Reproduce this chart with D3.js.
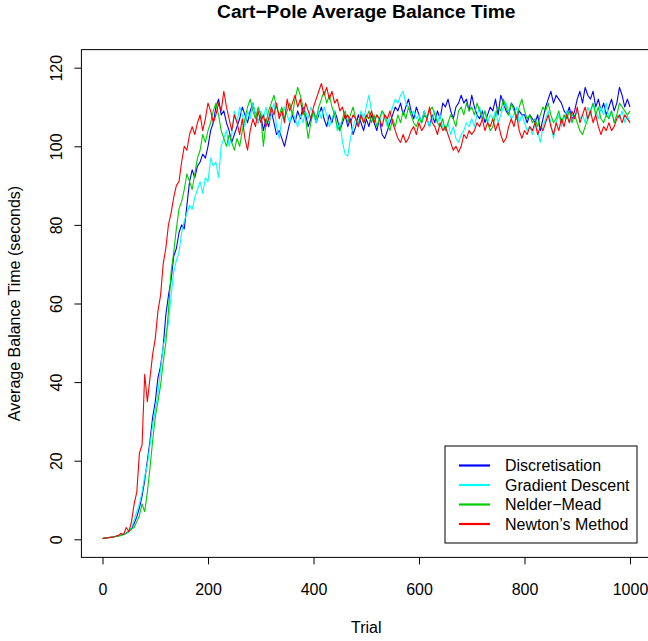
<!DOCTYPE html>
<html>
<head>
<meta charset="utf-8">
<script src="https://cdn.jsdelivr.net/npm/d3@7"></script>
<style>
  body { margin: 0; background: #fff; }
  text { font-family: "Liberation Sans", Arial, Helvetica, sans-serif; fill: #000; }
</style>
</head>
<body>
<svg id="chart" width="648" height="641"></svg>
<script>
// one reading every 5 trials, 0..1000
var trialStep = 5;
var xTicks = [0, 200, 400, 600, 800, 1000];
var yTicks = [0, 20, 40, 60, 80, 100, 120];
var seriesNames = ["Discretisation", "Gradient Descent", "Nelder\u2212Mead", "Newton\u2019s Method"];
var seriesColors = ["#0000ff", "#00ffff", "#00cd00", "#ff0000"];

var discretisation = [
	0.2, 0.3, 0.4, 0.5, 0.6, 0.7, 0.9, 1.1, 1.3, 1.6, 2.0, 2.6, 4.0, 5.7, 8, 11, 15, 20, 25, 31,
	35, 41, 44, 49, 57, 62, 66, 72, 74, 78, 80, 79, 85, 91, 94, 92, 95, 96, 98, 97,
	100, 104, 106, 110, 112, 108, 109, 106, 104, 101, 103, 105, 107, 110, 108, 106, 109, 111, 108, 106,
	108, 104, 107, 105, 109, 106, 103, 104, 102, 100, 103, 106, 108, 106, 109, 107, 110, 108, 105, 107,
	109, 106, 108, 110, 107, 105, 108, 106, 109, 107, 104, 106, 108, 105, 107, 103, 105, 108, 106, 104,
	107, 105, 108, 106, 104, 107, 103, 102, 104, 106, 108, 110, 109, 111, 108, 110, 112, 109, 107, 110,
	108, 106, 109, 107, 105, 108, 106, 109, 107, 111, 110, 112, 109, 107, 110, 111, 113, 111, 112, 109,
	113, 110, 108, 107, 109, 106, 108, 110, 109, 112, 108, 113, 111, 109, 108, 111, 110, 107, 109, 108,
	108, 106, 108, 107, 106, 108, 104, 107, 110, 112, 114, 111, 113, 112, 111, 109, 108, 110, 107, 109,
	112, 114, 111, 115, 113, 112, 114, 110, 112, 109, 111, 108, 110, 112, 109, 111, 115, 113, 110, 112,
	110
];
var gradientDescent = [
	0.2, 0.3, 0.4, 0.5, 0.6, 0.7, 0.8, 1.0, 1.2, 1.5, 2.0, 3.0, 5, 7, 9, 12, 16, 19, 24, 29,
	33, 37, 43, 49, 52, 55, 62, 68, 71, 73, 78, 81, 83, 85, 84, 87, 89, 91, 88, 92,
	91, 97, 95, 96, 92, 100, 102, 104, 100, 103, 109, 106, 110, 108, 105, 109, 107, 111, 108, 106,
	109, 107, 110, 106, 108, 111, 105, 102, 107, 110, 108, 106, 109, 107, 105, 108, 106, 109, 107, 110,
	108, 106, 109, 107, 110, 108, 105, 107, 109, 104, 106, 101, 98, 97.5, 102, 105, 107, 106, 109, 107,
	110, 113, 109, 107, 108, 106, 109, 107, 105, 108, 110, 112, 111, 113, 114, 111, 110, 108, 109, 107,
	108, 106, 109, 107, 105, 107, 109, 106, 108, 105, 104, 106, 103, 105, 102, 101, 103, 104, 106, 105,
	107, 105, 108, 110, 107, 109, 106, 108, 107, 109, 106, 108, 110, 111, 109, 107, 108, 110, 106, 108,
	106, 104, 105, 103, 106, 104, 101, 105, 107, 109, 106, 102, 106, 108, 105, 107, 109, 106, 108, 107,
	109, 107, 108, 106, 110, 108, 111, 109, 107, 110, 108, 111, 107, 109, 106, 108, 107, 109, 106, 108,
	106
];
var nelderMead = [
	0.2, 0.3, 0.4, 0.5, 0.6, 0.7, 0.8, 1.0, 1.2, 1.5, 2.0, 2.6, 3.0, 4.5, 6, 9, 7, 12, 18, 25,
	31, 35, 39, 45, 50, 58, 68, 73, 79, 84, 86, 89, 93, 91, 89, 93, 97, 99, 103, 101,
	104, 106, 109, 111, 108, 104, 102, 100, 103, 101, 99, 102, 100, 104, 107, 110, 112, 109, 107, 110,
	108, 100, 106, 109, 111, 113, 110, 108, 110, 107, 109, 111, 108, 112, 115, 113, 110, 107, 102, 106,
	109, 107, 110, 112, 114, 111, 113, 110, 108, 105, 104, 107, 109, 106, 108, 110, 107, 105, 108, 106,
	107, 109, 106, 108, 105, 107, 109, 108, 106, 104, 107, 105, 108, 106, 109, 107, 110, 108, 106, 105,
	107, 106, 108, 107, 109, 110, 108, 106, 105, 107, 104, 106, 108, 107, 105, 109, 110, 108, 111, 109,
	110, 108, 111, 109, 107, 109, 106, 104, 105, 108, 110, 109, 112, 110, 108, 111, 109, 107, 110, 112,
	109, 107, 108, 106, 107, 105, 108, 110, 109, 111, 108, 106, 107, 109, 106, 108, 107, 109, 106, 108,
	106, 104, 103, 105, 107, 109, 111, 108, 110, 107, 106, 108, 107, 109, 106, 108, 111, 110, 109, 108,
	109
];
var newtonsMethod = [
	0.2, 0.3, 0.4, 0.5, 0.6, 0.8, 1.0, 1.5, 1.2, 3.0, 2.0, 4.5, 9, 12, 22, 24, 42, 35, 41, 47,
	51, 58, 62, 70, 74, 80, 83, 87, 90, 91, 96, 100, 99, 103, 105, 103, 106, 108, 104, 107,
	111, 109, 106, 108, 111, 109, 114, 110, 107, 104, 108, 106, 103, 107, 102, 99, 104, 107, 105, 109,
	106, 108, 105, 107, 110, 108, 111, 107, 109, 106, 112, 109, 111, 113, 110, 112, 108, 111, 109, 107,
	110, 112, 114, 116, 113, 115, 112, 114, 111, 112, 109, 110, 107, 108, 106, 108, 107, 105, 108, 106,
	108, 107, 109, 106, 108, 107, 105, 108, 107, 109, 106, 104, 102, 101, 103, 101, 102, 104, 105, 103,
	106, 104, 105, 107, 110, 106, 105, 103, 106, 104, 105, 103, 101, 99, 100, 98.5, 100, 103, 102, 104,
	103, 104, 106, 105, 107, 104, 106, 105, 107, 104, 106, 103, 101, 102, 105, 107, 105, 108, 104, 102,
	104, 103, 105, 104, 106, 103, 105, 104, 106, 108, 105, 103, 106, 104, 107, 105, 108, 106, 109, 107,
	110, 106, 108, 110, 107, 109, 106, 108, 105, 103, 105, 104, 106, 104, 105, 107, 108, 106, 108, 107,
	106
];
var allSeries = [discretisation, gradientDescent, nelderMead, newtonsMethod];

var svg = d3.select("#chart");
var x = d3.scaleLinear().domain([0, 1000]).range([102.5, 630]);
var y = d3.scaleLinear().domain([0, 120]).range([539.3, 67.7]);
var boxL = x(-39.96), boxR = x(1039.96), boxT = y(124.6), boxB = y(-4.6);
var fontSize = "16px";

// series
var line = d3.line()
	.x(function(d, i) { return x(i * trialStep); })
	.y(function(d) { return y(d); });
allSeries.forEach(function(s, k) {
	svg.append("path")
		.attr("d", line(s))
		.attr("fill", "none")
		.attr("stroke", seriesColors[k])
		.attr("stroke-width", 1.1)
		.attr("stroke-linejoin", "round");
});

// plot box
svg.append("rect")
	.attr("x", boxL).attr("y", boxT)
	.attr("width", boxR - boxL).attr("height", boxB - boxT)
	.attr("fill", "none").attr("stroke", "#000").attr("stroke-width", 1);

// axes, R style: ticks outside the box
var xAxis = d3.axisBottom(x).tickValues(xTicks).tickSize(7).tickPadding(19).tickFormat(d3.format("d"));
var gx = svg.append("g").attr("transform", "translate(0," + boxB + ")").call(xAxis);
gx.select(".domain").remove();
gx.selectAll("text").style("font-size", fontSize).attr("font-family", null);
gx.selectAll("line").attr("stroke", "#000");

var yAxis = d3.axisLeft(y).tickValues(yTicks).tickSize(7).tickFormat(d3.format("d"));
var gy = svg.append("g").attr("transform", "translate(" + boxL + ",0)").call(yAxis);
gy.select(".domain").remove();
gy.selectAll("line").attr("stroke", "#000");
gy.selectAll("text")
	.style("font-size", fontSize).attr("font-family", null)
	.attr("x", null).attr("dy", null)
	.attr("text-anchor", "middle")
	.attr("transform", "translate(-19,0) rotate(-90)");

// titles
var midX = (boxL + boxR) / 2;
svg.append("text").attr("x", midX).attr("y", 18)
	.attr("text-anchor", "middle").style("font-size", "19.2px").style("font-weight", "bold")
	.text("Cart\u2212Pole Average Balance Time");
svg.append("text").attr("x", midX).attr("y", 633)
	.attr("text-anchor", "middle").style("font-size", fontSize)
	.text("Trial");
svg.append("text")
	.attr("transform", "translate(20," + ((boxT + boxB) / 2) + ") rotate(-90)")
	.attr("text-anchor", "middle").style("font-size", fontSize)
	.text("Average Balance Time (seconds)");

// legend
var leg = svg.append("g");
leg.append("rect").attr("x", 445).attr("y", 446).attr("width", 192).attr("height", 97)
	.attr("fill", "#fff").attr("stroke", "#000");
seriesNames.forEach(function(name, k) {
	var ly = 465.5 + k * 19.5;
	leg.append("line").attr("x1", 459).attr("x2", 490).attr("y1", ly).attr("y2", ly)
		.attr("stroke", seriesColors[k]).attr("stroke-width", 2.2);
	leg.append("text").attr("x", 505).attr("y", ly + 5.5).style("font-size", fontSize).text(name);
});
</script>
</body>
</html>
